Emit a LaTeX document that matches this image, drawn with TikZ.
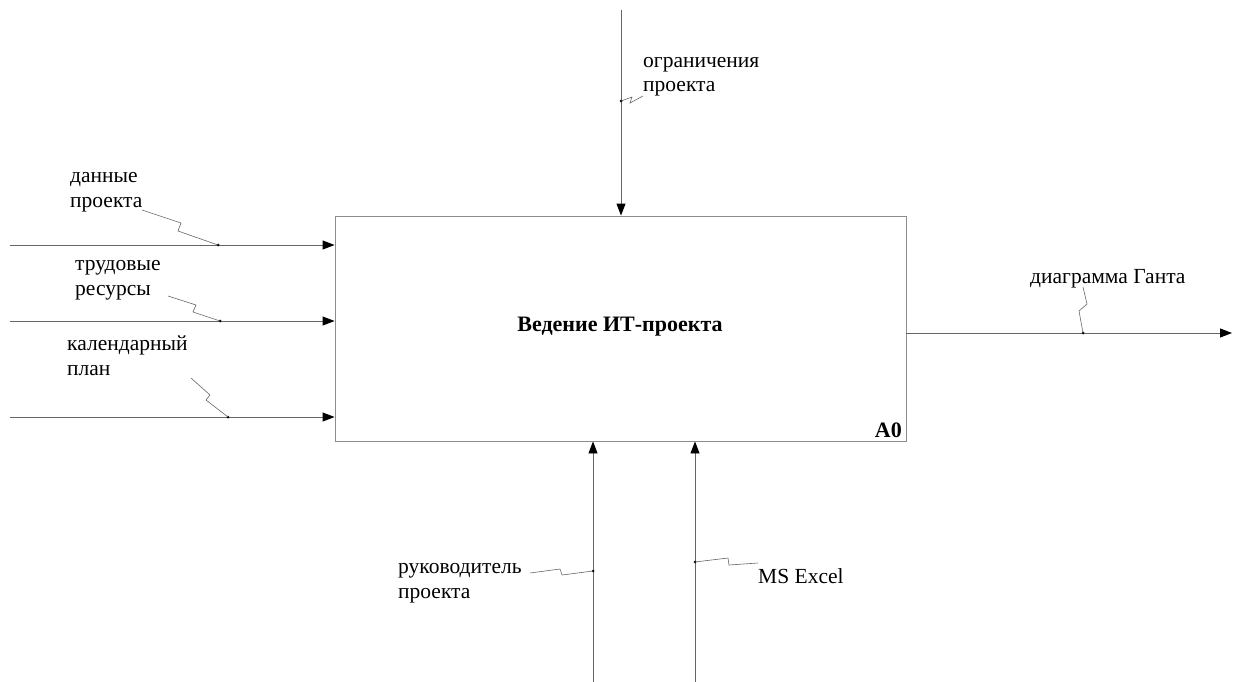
\documentclass[tikz,border=0pt]{standalone}
\usepackage{fontspec}
\setmainfont{Liberation Serif}
\usetikzlibrary{arrows.meta}

\begin{document}
\begin{tikzpicture}[x=1pt,y=-1pt,
  lbl/.style={font=\fontsize{21.5}{24.5}\selectfont, align=left, anchor=base west, inner sep=0pt},
  ln/.style={draw=black!60, line width=0.9pt},
  arr/.style={ln, -{Triangle[length=12pt,width=9pt,black]}},
  zig/.style={draw=black!60, line width=0.6pt},
  pt/.style={circle, fill=black, inner sep=0pt, minimum size=3pt}]
\useasboundingbox (0,0) rectangle (1242,682);
% function box
\node[draw=black!45, line width=0.9pt, minimum width=571pt, minimum height=225pt, inner sep=0pt] (box) at (620.5,328.5) {};
\node[font=\fontsize{22}{26}\selectfont\bfseries, anchor=base, inner sep=0pt] (title) at (620,331) {Ведение ИТ-проекта};
\node[font=\fontsize{22}{26}\selectfont\bfseries, anchor=base east, inner sep=0pt] (num) at (902,437) {A0};
% inputs
\coordinate (in1) at (10,245);
\coordinate (in2) at (10,321);
\coordinate (in3) at (10,417);
\draw[arr] (in1) -- (in1 -| box.west);
\draw[arr] (in2) -- (in2 -| box.west);
\draw[arr] (in3) -- (in3 -| box.west);
\node[pt] (d1) at (218,245) {};
\node[pt] (d2) at (220,321) {};
\node[pt] (d3) at (228,417) {};
\node[lbl] (l1) at (70,207) {данные\\проекта};
\node[lbl] (l2) at (75,295) {трудовые\\ресурсы};
\node[lbl] (l3) at (67,375) {календарный\\план};
\draw[zig] (142,210) -- (181,223) -- (178,231) -- (d1.center);
\draw[zig] (168,296) -- (196,305) -- (193,312) -- (d2.center);
\draw[zig] (191,378) -- (210,395) -- (206,400) -- (d3.center);
% control
\coordinate (ctl) at (621,10);
\draw[arr] (ctl) -- (ctl |- box.north);
\node[pt] (d4) at (621,101) {};
\node[lbl] (l4) at (643,92) {ограничения\\проекта};
\draw[zig] (d4.center) -- (632,97) -- (630,103) -- (643,96);
% output
\coordinate (out) at (1232,333);
\draw[arr] (out -| box.east) -- (out);
\node[pt] (d5) at (1083,333) {};
\node[lbl] (l5) at (1030,283) {диаграмма Ганта};
\draw[zig] (d5.center) -- (1079,311) -- (1087,304) -- (1083,287);
% mechanisms
\coordinate (m1) at (593,682);
\coordinate (m2) at (695,682);
\draw[arr] (m1) -- (m1 |- box.south);
\draw[arr] (m2) -- (m2 |- box.south);
\node[pt] (d6) at (593,571) {};
\node[pt] (d7) at (695,562) {};
\node[lbl] (l6) at (398,598) {руководитель\\проекта};
\node[lbl] (l7) at (758,583) {MS Excel};
\draw[zig] (530,573) -- (560,569) -- (562,575) -- (d6.center);
\draw[zig] (d7.center) -- (728,558) -- (729,565) -- (758,563);
\end{tikzpicture}
\end{document}
